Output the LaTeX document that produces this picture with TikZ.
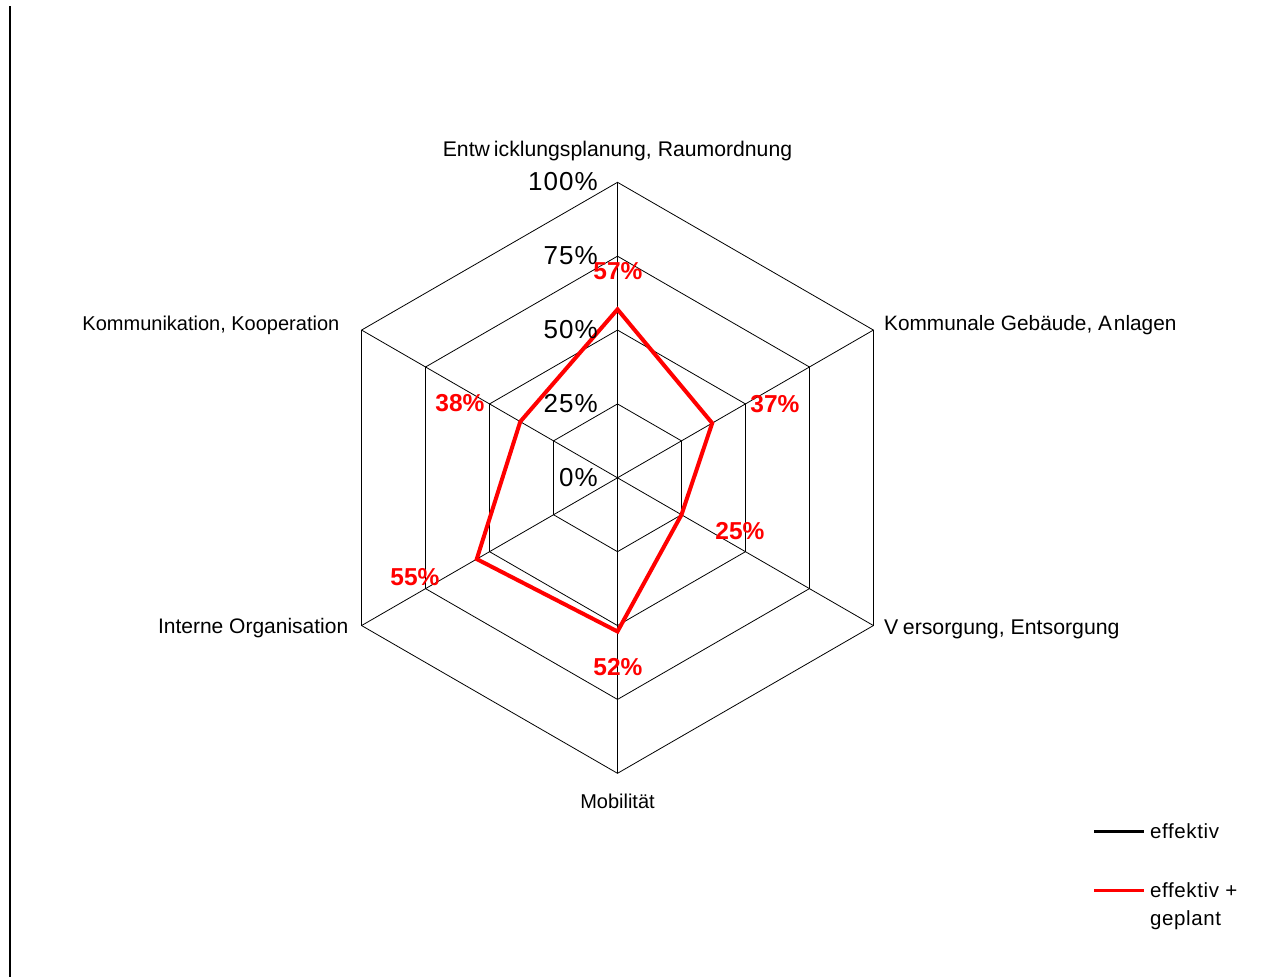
\documentclass[tikz,border=0pt]{standalone}
\usepackage{fontspec}
\setmainfont{Liberation Sans}
\begin{document}
\begin{tikzpicture}[x=1pt,y=1pt,
  grid/.style={draw=black,line width=0.8pt},
  catlabel/.style={font=\fontsize{#1}{#1}\selectfont,inner sep=0pt},
  catlabel/.default=20,
  scalelabel/.style={font=\fontsize{26}{28}\selectfont\addfontfeature{LetterSpace=4},inner sep=0pt,anchor=east},
  vallabel/.style={font=\fontsize{24.5}{26}\selectfont\bfseries,text=red,inner sep=0pt},
  series/.style={draw=red,line width=4pt,line join=miter},
  legline/.style={line width=3pt},
  legtext/.style={font=\fontsize{20.5}{28}\selectfont\addfontfeature{LetterSpace=3},inner sep=0pt,anchor=west,align=left}]
\useasboundingbox (0,-977) rectangle (1279,0);
\draw[line width=1.6pt] (9.7,-6) -- (9.7,-977);
\begin{scope}[shift={(617.5,-477.8)}]
  \def\R{295.5}
  \coordinate (C) at (0,0);
  \foreach \a/\n in {90/A,30/B,-30/Cc,-90/D,210/E,150/F}{
    \foreach \k in {1,2,3,4}{
      \coordinate (\n\k) at (\a:{\R*\k/4});
    }
  }
  \foreach \k in {1,2,3,4}{
    \draw[grid] (A\k) -- (B\k) -- (Cc\k) -- (D\k) -- (E\k) -- (F\k) -- cycle;
  }
  \foreach \n in {A,B,Cc,D,E,F}{ \draw[grid] (C) -- (\n4); }
  % data
  \coordinate (pA) at (90:{\R*0.57});
  \coordinate (pB) at (30:{\R*0.37});
  \coordinate (pC) at (-30:{\R*0.25});
  \coordinate (pD) at (-90:{\R*0.52});
  \coordinate (pE) at (210:{\R*0.55});
  \coordinate (pF) at (150:{\R*0.38});
  \draw[series] (pA) -- (pB) -- (pC) -- (pD) -- (pE) -- (pF) -- cycle;
\end{scope}
% scale labels
\node[scalelabel] (s100) at (598,-182) {100\%};
\node[scalelabel] (s75) at (598,-256) {75\%};
\node[scalelabel] (s50) at (598,-330) {50\%};
\node[scalelabel] (s25) at (598,-404) {25\%};
\node[scalelabel] (s0) at (598,-478) {0\%};
% category labels
\node[catlabel=21.2] (cA) at (617.5,-151) {Entw\kern4pt icklungsplanung, Raumordnung};
\node[catlabel=20.8,anchor=west] (cB) at (884,-325) {Kommunale Gebäude, A\kern2pt nlagen};
\node[catlabel=21.3,anchor=west] (cC) at (884,-629) {V\kern4.5pt ersorgung, Entsorgung};
\node[catlabel] (cD) at (617.5,-801) {Mobilität};
\node[catlabel=21,anchor=east] (cE) at (348.5,-628) {Interne Organisation};
\node[catlabel,anchor=east] (cF) at (339.5,-325) {Kommunikation, Kooperation};
% value labels
\node[vallabel] (vA) at (618,-271) {57\%};
\node[vallabel] (vB) at (775,-404) {37\%};
\node[vallabel] (vC) at (740,-531) {25\%};
\node[vallabel] (vD) at (618,-667) {52\%};
\node[vallabel] (vE) at (415,-577) {55\%};
\node[vallabel] (vF) at (460,-403) {38\%};
% legend
\coordinate (l1a) at (1094,-831);
\coordinate (l1b) at (1144,-831);
\coordinate (l2a) at (1094,-890);
\coordinate (l2b) at (1144,-890);
\draw[legline,black] (l1a) -- (l1b);
\draw[legline,red] (l2a) -- (l2b);
\node[legtext] (t1) at (1150,-831) {effektiv};
\node[legtext,anchor=north west] (t2) at (1150,-882) {effektiv +\\geplant};
\end{tikzpicture}
\end{document}
